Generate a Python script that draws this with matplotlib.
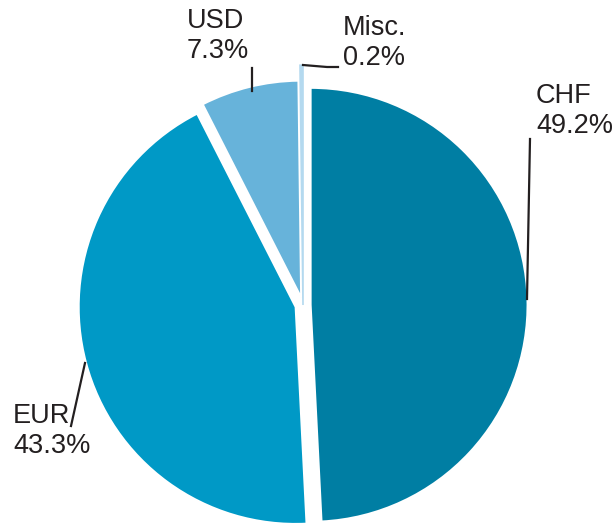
import matplotlib
matplotlib.use('Agg')
import matplotlib.pyplot as plt

# currency split of the portfolio
lstCurrencies = ['CHF', 'EUR', 'USD', 'Misc.']
lstShares = [49.2, 43.3, 7.3, 0.2]
lstColors = ['#007ea3', '#0099c6', '#67b3da', '#b4d9ef']

c_fPx = 217.0          # pixels per data unit (pie radius)
c_fCx, c_fCy = 303.0, 305.0
c_strTextColor = '#231f20'

def px(x, y):
   # pixel position on the canvas -> data coords around the pie centre
   return ((x - c_fCx) / c_fPx, (c_fCy - y) / c_fPx)

plt.rcParams['font.family'] = ['Liberation Sans', 'DejaVu Sans']

fig = plt.figure(figsize=(6.15, 5.23), dpi=100)
ax = fig.add_axes([0, 0, 1, 1])

wedges, _ = ax.pie(lstShares, colors=lstColors, startangle=90, counterclock=False,
                   explode=[0.035, 0.035, 0.035, 0.0],
                   wedgeprops=dict(edgecolor='white', linewidth=1.5))
# the tiny slice would vanish, so stretch it out and outline it in its own colour
wedges[3].set_edgecolor(lstColors[3])
wedges[3].set_linewidth(1.2)
wedges[3].set_radius(1.105)

x0, y0 = px(0, 523)
x1, y1 = px(615, 0)
ax.set_xlim(x0, x1)
ax.set_ylim(y0, y1)
ax.set_aspect('auto')
ax.axis('off')

# labels: (text anchor, leader polyline) in pixels
dctLabels = {
   'CHF':   ((536, 83),  [(530, 139), (527, 299)]),
   'EUR':   ((13, 403),  [(71, 426), (85, 363)]),
   'USD':   ((187, 8),   [(252, 68), (252, 91)]),
   'Misc.': ((343, 15),  [(303, 65), (327, 67), (338, 67)]),
}

for strName, fShare in zip(lstCurrencies, lstShares):
   (tx, ty), lstLeader = dctLabels[strName]
   ax.text(*px(tx, ty), '%s\n%.1f%%' % (strName, fShare), fontsize=19.5,
           color=c_strTextColor, ha='left', va='top', linespacing=1.2)
   pts = [px(x, y) for (x, y) in lstLeader]
   ax.plot([p[0] for p in pts], [p[1] for p in pts], color=c_strTextColor, linewidth=1.6)

fig.savefig('out.png', dpi=100)
